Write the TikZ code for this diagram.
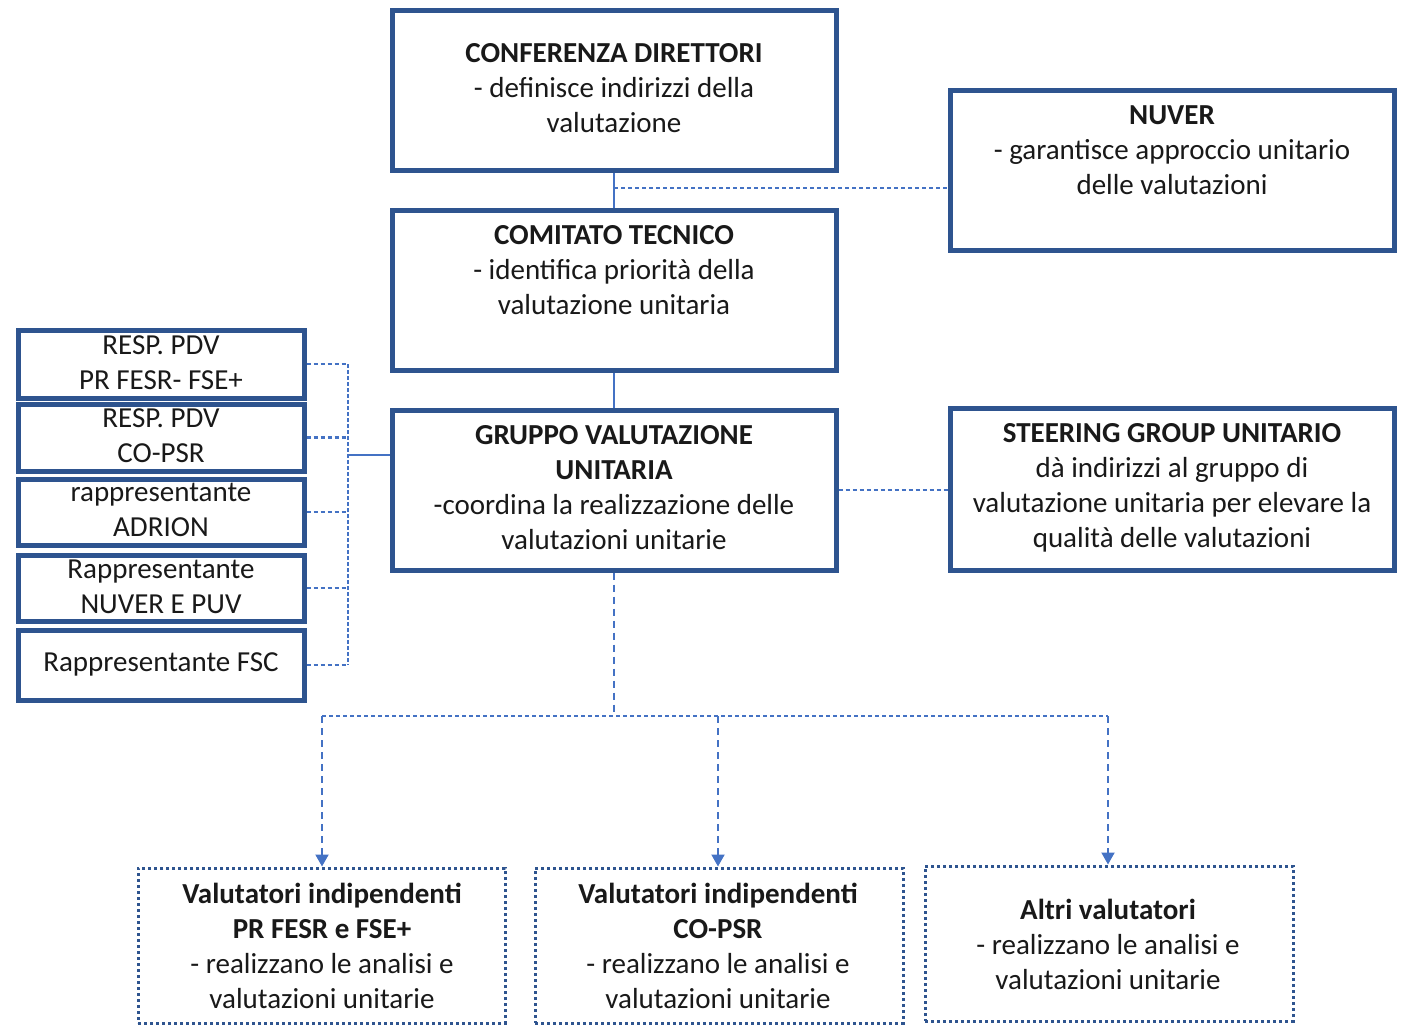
\documentclass[tikz,border=0pt]{standalone}
\usepackage{fontspec}
\setmainfont{Carlito}
\usetikzlibrary{arrows.meta}
\definecolor{boxblue}{RGB}{46,84,143}
\definecolor{linkblue}{RGB}{68,114,196}
\definecolor{txt}{RGB}{25,25,25}
\tikzset{
  bluebox/.style={draw=boxblue, line width=5pt, fill=white, inner sep=0pt},
  dotbox/.style={draw=boxblue, line width=3pt, dash pattern=on 3pt off 3pt, fill=white, inner sep=0pt},
  lbl/.style={anchor=north, inner sep=0pt, align=center, text=txt, font=\fontsize{29}{35}\selectfont},
  solidc/.style={draw=linkblue, line width=1.5pt},
  dotc/.style={draw=linkblue, line width=2.5pt, dash pattern=on 4pt off 3pt},
  dashc/.style={draw=linkblue, line width=2pt, dash pattern=on 7pt off 5pt},
  arr/.style={-{Triangle[length=12pt,width=13pt]}}
}
\begin{document}
\begin{tikzpicture}[x=1pt,y=-1pt]
\useasboundingbox (0,0) rectangle (1401,1026);
% boxes
\node[bluebox, minimum width=444pt, minimum height=160pt] (conf) at (614,90) {};
\node[bluebox, minimum width=444pt, minimum height=160pt] (nuver) at (1172,170) {};
\node[bluebox, minimum width=444pt, minimum height=160pt] (comit) at (614,290) {};
\node[bluebox, minimum width=444pt, minimum height=160pt] (grup) at (614,490) {};
\node[bluebox, minimum width=444pt, minimum height=162pt] (steer) at (1172,489) {};
\node[bluebox, minimum width=286pt, minimum height=68pt] (r1) at (161,364) {};
\node[bluebox, minimum width=286pt, minimum height=67pt] (r2) at (161,437.5) {};
\node[bluebox, minimum width=286pt, minimum height=66pt] (r3) at (161,512) {};
\node[bluebox, minimum width=286pt, minimum height=66pt] (r4) at (161,588) {};
\node[bluebox, minimum width=286pt, minimum height=70pt] (r5) at (161,665) {};
\node[dotbox, minimum width=367pt, minimum height=155pt] (v1) at (321.5,945.5) {};
\node[dotbox, minimum width=368pt, minimum height=155pt] (v2) at (719,945.5) {};
\node[dotbox, minimum width=368pt, minimum height=155pt] (v3) at (1109,943.5) {};
% texts
\node[lbl] (tconf) at (614,43.5) {\textbf{CONFERENZA DIRETTORI}\\- definisce indirizzi della\\valutazione};
\node[lbl] (tnuver) at (1172,105.5) {\textbf{NUVER}\\- garantisce approccio unitario\\delle valutazioni};
\node[lbl] (tcomit) at (614,225.5) {\textbf{COMITATO TECNICO}\\- identifica priorità della\\valutazione unitaria};
\node[lbl] (tgrup) at (614,425.5) {\textbf{GRUPPO VALUTAZIONE}\\\textbf{UNITARIA}\\-coordina la realizzazione delle\\valutazioni unitarie};
\node[lbl] (tsteer) at (1172,423.5) {\textbf{STEERING GROUP UNITARIO}\\dà indirizzi al gruppo di\\valutazione unitaria per elevare la\\qualità delle valutazioni};
\node[lbl] (tr1) at (161,335.5) {RESP. PDV\\PR FESR- FSE+};
\node[lbl] (tr2) at (161,408.5) {RESP. PDV\\CO-PSR};
\node[lbl] (tr3) at (161,482.5) {rappresentante\\ADRION};
\node[lbl] (tr4) at (161,559.5) {Rappresentante\\NUVER E PUV};
\node[lbl] (tr5) at (161,652.5) {Rappresentante FSC};
\node[lbl] (tv1) at (322,882.5) {\textbf{Valutatori indipendenti}\\\textbf{PR FESR e FSE+}\\- realizzano le analisi e\\valutazioni unitarie};
\node[lbl] (tv2) at (718,882.5) {\textbf{Valutatori indipendenti}\\\textbf{CO-PSR}\\- realizzano le analisi e\\valutazioni unitarie};
\node[lbl] (tv3) at (1108,898.5) {\textbf{Altri valutatori}\\- realizzano le analisi e\\valutazioni unitarie};
% connectors top
\draw[solidc] (conf.south) -- (comit.north);
\coordinate (nj) at (614,188);
\draw[dotc] (nj) -- (nj -| nuver.west);
\draw[solidc] (comit.south) -- (grup.north);
% left bracket
\coordinate (bx) at (348,455);
\foreach \r in {r1,r2,r3,r4,r5} {
  \draw[dotc] (\r.east) -- (\r.east -| bx);
}
\draw[dotc, dash pattern=on 4pt off 2pt] (r1.east -| bx) -- (r5.east -| bx);
\draw[solidc, line width=2.5pt] (bx) -- (bx -| grup.west);
% steering
\draw[dotc] (grup.east) -- (grup.east -| steer.west);
% down
\coordinate (dj) at (614,716);
\coordinate (dl) at (322,716);
\coordinate (dm) at (718,716);
\coordinate (dr) at (1108,716);
\draw[dashc] (grup.south) -- (dj);
\draw[dotc] (dl) -- (dr);
\draw[dashc, arr] (dl) -- (dl |- v1.north);
\draw[dashc, arr] (dm) -- (dm |- v2.north);
\draw[dashc, arr] (dr) -- (dr |- v3.north);
\end{tikzpicture}
\end{document}
